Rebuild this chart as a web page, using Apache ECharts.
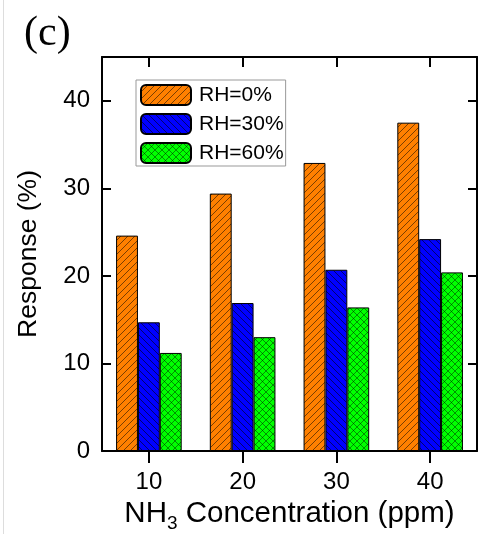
<!DOCTYPE html>
<html>
<head>
<meta charset="utf-8">
<script src="https://cdn.jsdelivr.net/npm/echarts@6/dist/echarts.min.js"></script>
<style>
  html,body{margin:0;padding:0;background:#fff;}
  #chart{width:481px;height:534px;}
</style>
</head>
<body>
<div id="chart"></div>
<script>
var categories = ['10', '20', '30', '40'];
var seriesNames = ['RH=0%', 'RH=30%', 'RH=60%'];
var rh0 = [24.6, 29.4, 32.9, 37.5];
var rh30 = [14.7, 16.9, 20.7, 24.2];
var rh60 = [11.2, 13.0, 16.4, 20.4];

// hatch fill like origin's patterns
function hatch(bg, fwd, back, alpha) {
    var s = 7;
    var c = document.createElement('canvas');
    c.width = s; c.height = s;
    var g = c.getContext('2d');
    g.fillStyle = bg;
    g.fillRect(0, 0, s, s);
    g.strokeStyle = 'rgba(0,0,0,' + alpha + ')';
    g.lineWidth = 0.8;
    g.beginPath();
    if (fwd) {
        g.moveTo(-1, s + 1); g.lineTo(s + 1, -1);
        g.moveTo(-1, 1); g.lineTo(1, -1);
        g.moveTo(s - 1, s + 1); g.lineTo(s + 1, s - 1);
    }
    if (back) {
        g.moveTo(-1, -1); g.lineTo(s + 1, s + 1);
        g.moveTo(s - 1, -1); g.lineTo(s + 1, 1);
        g.moveTo(-1, s - 1); g.lineTo(1, s + 1);
    }
    g.stroke();
    return { image: c, repeat: 'repeat' };
}

var fills = [
    hatch('#ff8000', true, false, 0.65),
    hatch('#0000ff', false, true, 0.7),
    hatch('#00ff00', true, true, 0.55)
];
var values = [rh0, rh30, rh60];

var font = 'Liberation Sans';
function line() { return { show: true, onZero: false, lineStyle: { color: '#000', width: 2 } }; }
function tick(inside, len) {
    return { show: true, alignWithLabel: true, inside: inside, length: len, lineStyle: { color: '#000', width: 2 } };
}

var myChart = echarts.init(document.getElementById('chart'));
var option = {
    animation: false,
    title: {
        text: '(c)',
        left: 19,
        top: 8,
        textStyle: { fontFamily: 'Liberation Serif', fontSize: 42, fontWeight: 'normal', color: '#000' }
    },
    graphic: [{
        type: 'line', silent: true,
        shape: { x1: 3.5, y1: 0, x2: 3.5, y2: 534 },
        style: { stroke: '#ddd', lineWidth: 1 }
    }],
    legend: {
        orient: 'vertical',
        left: 136,
        top: 80,
        itemWidth: 50,
        itemHeight: 20,
        itemGap: 7,
        padding: [4, 2, 2, 4],
        borderColor: '#999',
        borderWidth: 1,
        textStyle: { fontFamily: font, fontSize: 21, color: '#000', padding: [0, 0, 0, 3] },
        data: seriesNames
    },
    grid: { left: 102, right: 4, top: 57, bottom: 83, containLabel: false, outerBoundsMode: 'none' },
    xAxis: [
        {
            type: 'category', data: categories, position: 'bottom',
            axisLine: line(),
            axisTick: tick(false, 12),
            axisLabel: { fontFamily: font, fontSize: 24, color: '#000', margin: 19 },
            name: '{a|NH}{s|3}{a| Concentration (ppm)}',
            nameLocation: 'middle',
            nameGap: 44,
            nameTextStyle: {
                rich: {
                    a: { fontFamily: font, fontSize: 29.5, color: '#000', lineHeight: 38 },
                    s: { fontFamily: font, fontSize: 19, color: '#000', lineHeight: 16, verticalAlign: 'bottom' }
                }
            }
        },
        {
            // inner half of the bottom ticks
            type: 'category', data: categories, position: 'bottom',
            axisLine: { show: false },
            axisTick: tick(true, 10),
            axisLabel: { show: false }
        },
        {
            type: 'category', data: categories, position: 'top',
            axisLine: line(),
            axisTick: tick(true, 10),
            axisLabel: { show: false }
        }
    ],
    yAxis: [
        {
            type: 'value', min: 0, max: 45, interval: 10, position: 'left',
            axisLine: line(),
            axisTick: tick(true, 9),
            axisLabel: { fontFamily: font, fontSize: 24, color: '#000', margin: 12, showMaxLabel: false },
            splitLine: { show: false },
            name: 'Response (%)',
            nameLocation: 'middle',
            nameGap: 60,
            nameTextStyle: { fontFamily: font, fontSize: 26.5, color: '#000' }
        },
        {
            type: 'value', min: 0, max: 45, interval: 10, position: 'right',
            axisLine: line(),
            axisTick: tick(true, 9),
            axisLabel: { show: false },
            splitLine: { show: false }
        }
    ],
    series: seriesNames.map(function (n, i) {
        return {
            name: n,
            type: 'bar',
            xAxisIndex: 0,
            yAxisIndex: 0,
            barGap: '0%',
            barCategoryGap: '30%',
            itemStyle: { color: fills[i], borderColor: '#000', borderWidth: 1 },
            data: values[i]
        };
    })
};
myChart.setOption(option);
</script>
</body>
</html>
